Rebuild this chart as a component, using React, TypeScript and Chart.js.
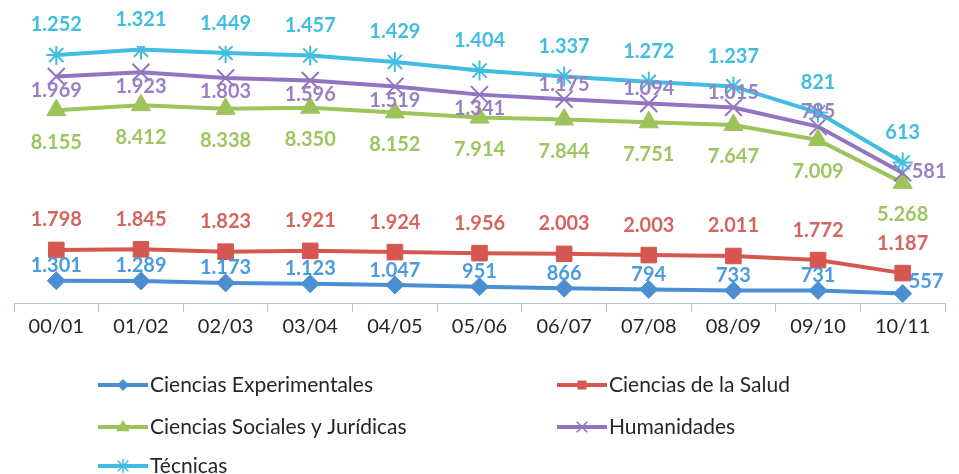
import React, { useEffect, useRef } from "react";
import { Chart, registerables } from "chart.js";

Chart.register(...registerables);

const categories = ["00/01", "01/02", "02/03", "03/04", "04/05", "05/06", "06/07", "07/08", "08/09", "09/10", "10/11"];
const experimentales = [1301, 1289, 1173, 1123, 1047, 951, 866, 794, 733, 731, 557];
const salud = [1798, 1845, 1823, 1921, 1924, 1956, 2003, 2003, 2011, 1772, 1187];
const sociales = [8155, 8412, 8338, 8350, 8152, 7914, 7844, 7751, 7647, 7009, 5268];
const humanidades = [1969, 1923, 1803, 1596, 1519, 1341, 1175, 1094, 1015, 785, 581];
const tecnicas = [1252, 1321, 1449, 1457, 1429, 1404, 1337, 1272, 1237, 821, 613];

type Series = {
  label: string;
  values: number[];
  line: string;
  text: string;
  point: string;
  radius: number;
  legendRadius: number;
  place: string[];
};

const rep = (p: string, n: number) => Array.from({ length: n }, () => p);

const series: Series[] = [
  { label: "Ciencias Experimentales", values: experimentales, line: "#4a8fd2", text: "#4a9be0", point: "rectRot", radius: 9, legendRadius: 6, place: [...rep("above", 10), "rightUp"] },
  { label: "Ciencias de la Salud", values: salud, line: "#d6574f", text: "#d5655e", point: "rect", radius: 11, legendRadius: 6, place: rep("above", 11) },
  { label: "Ciencias Sociales y Jurídicas", values: sociales, line: "#9dc35b", text: "#9cc65f", point: "triangle", radius: 11, legendRadius: 7, place: rep("belowFar", 11) },
  { label: "Humanidades", values: humanidades, line: "#9274c0", text: "#9a7fc4", point: "crossRot", radius: 12, legendRadius: 7, place: [...rep("below", 6), ...rep("above", 4), "right"] },
  { label: "Técnicas", values: tecnicas, line: "#40bde0", text: "#40bee0", point: "star", radius: 10, legendRadius: 7, place: rep("aboveFar", 11) },
];

const fmt = (v: number) => (v >= 1000 ? Math.floor(v / 1000) + "." + String(v % 1000).padStart(3, "0") : String(v));

const FONT = "Lato, 'Open Sans', sans-serif";

function marker(ctx: CanvasRenderingContext2D, style: string, x: number, y: number, r: number, color: string) {
  ctx.save();
  ctx.fillStyle = color;
  ctx.strokeStyle = color;
  ctx.lineWidth = 1.5;
  ctx.beginPath();
  if (style === "rectRot") {
    ctx.moveTo(x - r, y);
    ctx.lineTo(x, y - r);
    ctx.lineTo(x + r, y);
    ctx.lineTo(x, y + r);
    ctx.closePath();
    ctx.fill();
  } else if (style === "rect") {
    ctx.rect(x - r * 0.75, y - r * 0.75, r * 1.5, r * 1.5);
    ctx.fill();
  } else if (style === "triangle") {
    ctx.moveTo(x, y - r);
    ctx.lineTo(x + r * 0.95, y + r * 0.6);
    ctx.lineTo(x - r * 0.95, y + r * 0.6);
    ctx.closePath();
    ctx.fill();
  } else if (style === "crossRot") {
    const d = r * 0.75;
    ctx.moveTo(x - d, y - d);
    ctx.lineTo(x + d, y + d);
    ctx.moveTo(x + d, y - d);
    ctx.lineTo(x - d, y + d);
    ctx.stroke();
  } else if (style === "star") {
    const d = r * 0.75;
    ctx.moveTo(x - d, y - d);
    ctx.lineTo(x + d, y + d);
    ctx.moveTo(x + d, y - d);
    ctx.lineTo(x - d, y + d);
    ctx.moveTo(x, y - r);
    ctx.lineTo(x, y + r);
    ctx.stroke();
  }
  ctx.restore();
}

const labelPlugin = {
  id: "valueLabels",
  afterDatasetsDraw(chart: any) {
    const ctx = chart.ctx;
    ctx.save();
    ctx.font = `bold 20px ${FONT}`;
    ctx.textBaseline = "middle";
    chart.data.datasets.forEach((ds: any, di: number) => {
      const meta = chart.getDatasetMeta(di);
      const s: Series = ds._series;
      meta.data.forEach((pt: any, i: number) => {
        const txt = fmt(s.values[i]);
        const p = s.place[i];
        let x = pt.x;
        let y = pt.y;
        ctx.textAlign = "center";
        if (p === "above") {
          y -= s.label === "Ciencias de la Salud" ? 30 : 15;
        } else if (p === "aboveFar") {
          y -= 30;
        } else if (p === "below") {
          y += 14;
        } else if (p === "belowFar") {
          y += 32;
        } else if (p === "right") {
          ctx.textAlign = "left";
          x += 9;
          y -= 1;
        } else if (p === "rightUp") {
          ctx.textAlign = "left";
          x += 6;
          y -= 12;
        }
        ctx.fillStyle = s.text;
        ctx.fillText(txt, x, y);
      });
    });
    ctx.restore();
  },
};

const legendPlugin = {
  id: "customLegend",
  afterDraw(chart: any) {
    const ctx = chart.ctx;
    const slots = [
      { x: 98, y: 385 },
      { x: 557, y: 385 },
      { x: 98, y: 427 },
      { x: 557, y: 427 },
      { x: 98, y: 466 },
    ];
    ctx.save();
    series.forEach((s, i) => {
      const { x, y } = slots[i];
      ctx.strokeStyle = s.line;
      ctx.lineWidth = 4;
      ctx.beginPath();
      ctx.moveTo(x, y);
      ctx.lineTo(x + 50, y);
      ctx.stroke();
      marker(ctx, s.point, x + 25, y, s.legendRadius, s.line);
      ctx.fillStyle = "#262626";
      ctx.font = `21px ${FONT}`;
      ctx.textAlign = "left";
      ctx.textBaseline = "middle";
      ctx.fillText(s.label, x + 52, y);
    });
    ctx.restore();
  },
};

export default function App() {
  const ref = useRef<HTMLCanvasElement>(null);
  useEffect(() => {
    document.body.style.margin = "0";
    const cum: number[][] = [];
    series.forEach((s, si) => {
      cum.push(s.values.map((v, i) => v + (si > 0 ? cum[si - 1][i] : 0)));
    });
    const datasets = series.map((s, si) => ({
      label: s.label,
      data: cum[si],
      borderColor: s.line,
      backgroundColor: s.line,
      borderWidth: 4,
      pointStyle: s.point,
      pointRadius: s.radius,
      pointBorderWidth: s.point === "crossRot" || s.point === "star" ? 2 : 1,
      pointBorderColor: s.line,
      pointBackgroundColor: s.line,
      tension: 0,
      fill: false,
      order: series.length - 1 - si,
      _series: s,
    }));
    const chart = new Chart(ref.current!, {
      type: "line",
      data: { labels: categories, datasets: datasets as any },
      options: {
        animation: false,
        responsive: false,
        devicePixelRatio: 1,
        layout: { padding: { left: 12, right: 1, top: 46, bottom: 131 } },
        plugins: { legend: { display: false }, tooltip: { enabled: false } },
        scales: {
          y: { display: false, min: 0, max: 15000 },
          x: {
            offset: true,
            grid: { offset: true, drawOnChartArea: false, drawTicks: true, tickLength: 9, color: "#a9c4dc" },
            border: { color: "#a9c4dc", width: 1 },
            ticks: { color: "#262626", font: { family: FONT, size: 20 }, padding: 3, maxRotation: 0 },
            afterFit: (scale: any) => {
              scale.height = 40;
            },
          },
        },
      },
      plugins: [labelPlugin, legendPlugin],
    });
    return () => chart.destroy();
  }, []);
  return (
    <div style={{ position: "fixed", left: 0, top: 0, width: 959, height: 474, background: "#fff" }}>
      <canvas ref={ref} width={959} height={474} />
    </div>
  );
}
